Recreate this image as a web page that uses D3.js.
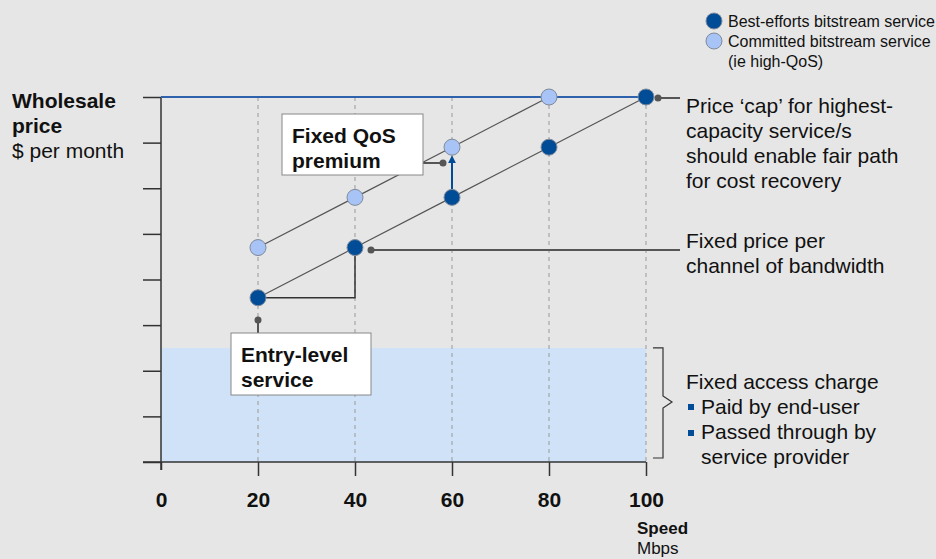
<!DOCTYPE html>
<html>
<head>
<meta charset="utf-8">
<script src="https://cdn.jsdelivr.net/npm/d3@7"></script>
<style>
  body { margin: 0; background: #e6e6e6; }
  svg { display: block; font-family: Arial, "Liberation Sans", sans-serif; }
</style>
</head>
<body>
<script>
// speeds (Mbps) and price levels (arbitrary units, 8 = price cap)
const speeds = [20, 40, 60, 80, 100];
const bestEfforts = [3.6, 4.7, 5.8, 6.9, 8.0];
const committedSpeeds = [20, 40, 60, 80];
const committed = [4.7, 5.8, 6.9, 8.0];
const accessCharge = 2.5;
const priceCap = 8;
const xTicks = [0, 20, 40, 60, 80, 100];
const yTicks = [0, 1, 2, 3, 4, 5, 6, 7, 8];

const width = 936, height = 559;
const margin = {top: 97, right: 290, bottom: 97, left: 161};

const dark = "#004c97", light = "#a8c4f6", connector = "#555";

const svg = d3.select("body").append("svg")
    .attr("width", width)
    .attr("height", height);

const x = d3.scaleLinear()
    .domain([0, 100])
    .range([margin.left, width - margin.right]);

const y = d3.scaleLinear()
    .domain([0, 8])
    .range([height - margin.bottom, margin.top]);

// fixed access charge band
svg.append("rect")
    .attr("x", x(0))
    .attr("y", y(accessCharge))
    .attr("width", x(100) - x(0))
    .attr("height", y(0) - y(accessCharge))
    .attr("fill", "#cfe2f8");

// dashed verticals
svg.append("g")
  .selectAll("line")
  .data(speeds)
  .join("line")
    .attr("x1", d => x(d)).attr("x2", d => x(d))
    .attr("y1", y(priceCap)).attr("y2", y(0))
    .attr("stroke", "#999")
    .attr("stroke-dasharray", "4,4");

// axes
svg.append("g")
    .attr("transform", `translate(${x(0)},0)`)
    .call(d3.axisLeft(y).tickValues(yTicks).tickSize(18).tickSizeOuter(0).tickFormat(""))
    .call(g => g.selectAll("line,path").attr("stroke", "#333").attr("stroke-width", 1.5))
    .call(g => g.select(".domain").attr("d", `M0,${y(priceCap)}V${y(0) + 8}`));

svg.append("g")
    .attr("transform", `translate(0,${y(0)})`)
    .call(d3.axisBottom(x).tickValues(xTicks).tickSize(14).tickPadding(16).tickSizeOuter(0))
    .call(g => g.selectAll("line,path").attr("stroke", "#333").attr("stroke-width", 1.5))
    .call(g => g.select(".tick line").attr("y2", 8))
    .call(g => g.select(".domain").attr("d", `M${x(0) - 18},0H${x(100)}`))
    .call(g => g.selectAll("text")
        .attr("font-family", "Arial, 'Liberation Sans', sans-serif")
        .attr("font-size", 21).attr("font-weight", "bold").attr("fill", "#111"));

// price cap line
svg.append("line")
    .attr("x1", x(0)).attr("x2", x(100))
    .attr("y1", y(priceCap)).attr("y2", y(priceCap))
    .attr("stroke", "#2f62ad").attr("stroke-width", 2);

// trend lines
const line = d3.line().x(d => x(d[0])).y(d => y(d[1]));
svg.append("path")
    .attr("d", line(speeds.map((s, i) => [s, bestEfforts[i]])))
    .attr("fill", "none").attr("stroke", "#555").attr("stroke-width", 1.2);
svg.append("path")
    .attr("d", line(committedSpeeds.map((s, i) => [s, committed[i]])))
    .attr("fill", "none").attr("stroke", "#555").attr("stroke-width", 1.2);

// step: fixed price per channel
svg.append("path")
    .attr("d", `M${x(20)},${y(bestEfforts[0])}H${x(40)}V${y(bestEfforts[1])}`)
    .attr("fill", "none").attr("stroke", "#333").attr("stroke-width", 1.5);

// QoS premium arrow
svg.append("defs").append("marker")
    .attr("id", "arr").attr("viewBox", "0 0 10 10")
    .attr("refX", 5).attr("refY", 5)
    .attr("markerWidth", 4).attr("markerHeight", 4)
    .attr("orient", "auto")
  .append("path").attr("d", "M0,0L10,5L0,10z").attr("fill", dark);
svg.append("line")
    .attr("x1", x(60)).attr("x2", x(60))
    .attr("y1", y(bestEfforts[2]) - 8).attr("y2", y(committed[2]) + 12)
    .attr("stroke", dark).attr("stroke-width", 2)
    .attr("marker-end", "url(#arr)");

// points
svg.append("g")
  .selectAll("circle")
  .data(committedSpeeds)
  .join("circle")
    .attr("cx", d => x(d))
    .attr("cy", (d, i) => y(committed[i]))
    .attr("r", 8)
    .attr("fill", light).attr("stroke", "#7f8a9a").attr("stroke-width", 1);

svg.append("g")
  .selectAll("circle")
  .data(speeds)
  .join("circle")
    .attr("cx", d => x(d))
    .attr("cy", (d, i) => y(bestEfforts[i]))
    .attr("r", 8)
    .attr("fill", dark).attr("stroke", "#7f8a9a").attr("stroke-width", 1);

// connectors with dot
function connect(x1, y1, x2, y2) {
  svg.append("line")
      .attr("x1", x1).attr("y1", y1).attr("x2", x2).attr("y2", y2)
      .attr("stroke", connector).attr("stroke-width", 2);
  svg.append("circle").attr("cx", x1).attr("cy", y1).attr("r", 3.5).attr("fill", connector);
}
connect(x(100) + 12, y(priceCap) + 1, 680, y(priceCap) + 1);
connect(x(40) + 16, 250, 680, 250);
connect(x(60) - 9, 163, 423, 163);
connect(x(20), 320, x(20), 333);

// boxes
function box(bx, by, bw, bh, lines) {
  svg.append("rect")
      .attr("x", bx).attr("y", by).attr("width", bw).attr("height", bh)
      .attr("fill", "#fff").attr("stroke", "#888");
  svg.append("text")
      .attr("font-size", 21).attr("font-weight", "bold").attr("fill", "#111")
    .selectAll("tspan")
    .data(lines)
    .join("tspan")
      .attr("x", bx + 10)
      .attr("y", (d, i) => by + 29 + i * 25)
      .text(d => d);
}
box(282, 114, 141, 61, ["Fixed QoS", "premium"]);
box(231, 333, 140, 62, ["Entry-level", "service"]);

// right-hand text
function para(tx, ty, lines) {
  svg.append("text")
      .attr("font-size", 21).attr("fill", "#111")
    .selectAll("tspan")
    .data(lines)
    .join("tspan")
      .attr("x", tx)
      .attr("y", (d, i) => ty + i * 25)
      .text(d => d);
}
para(686, 113, ["Price \u2018cap\u2019 for highest-", "capacity service/s", "should enable fair path", "for cost recovery"]);
para(686, 248, ["Fixed price per", "channel of bandwidth"]);
para(686, 389, ["Fixed access charge"]);
para(701, 414, ["Paid by end-user", "Passed through by", "service provider"]);
svg.append("g")
  .selectAll("rect")
  .data([404, 430])
  .join("rect")
    .attr("x", 688).attr("y", d => d)
    .attr("width", 6).attr("height", 6)
    .attr("fill", dark);

// brace
svg.append("path")
    .attr("d", `M653,${y(accessCharge)}H663V396L672,402L663,408V458H653`)
    .attr("fill", "none").attr("stroke", "#333").attr("stroke-width", 1.2);

// y label
svg.append("text").attr("x", 12).attr("y", 108)
    .attr("font-size", 21).attr("font-weight", "bold").attr("fill", "#111").text("Wholesale");
svg.append("text").attr("x", 12).attr("y", 133)
    .attr("font-size", 21).attr("font-weight", "bold").attr("fill", "#111").text("price");
svg.append("text").attr("x", 12).attr("y", 158)
    .attr("font-size", 21).attr("fill", "#111").text("$ per month");

// x label
svg.append("text").attr("x", 637).attr("y", 534)
    .attr("font-size", 17).attr("font-weight", "bold").attr("fill", "#111").text("Speed");
svg.append("text").attr("x", 637).attr("y", 554)
    .attr("font-size", 17).attr("fill", "#111").text("Mbps");

// legend
const legend = svg.append("g").attr("font-size", 16).attr("fill", "#111");
legend.append("circle").attr("cx", 714).attr("cy", 21).attr("r", 8)
    .attr("fill", dark).attr("stroke", "#7f8a9a");
legend.append("text").attr("x", 728).attr("y", 27).text("Best-efforts bitstream service");
legend.append("circle").attr("cx", 714).attr("cy", 41).attr("r", 8)
    .attr("fill", light).attr("stroke", "#7f8a9a");
legend.append("text").attr("x", 728).attr("y", 47).text("Committed bitstream service");
legend.append("text").attr("x", 728).attr("y", 67).text("(ie high-QoS)");
</script>
</body>
</html>
